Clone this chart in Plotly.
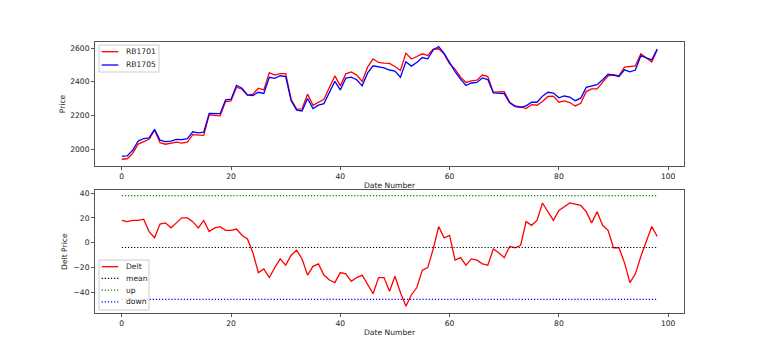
import plotly.graph_objects as go
from plotly.subplots import make_subplots

date_number = list(range(99))
rb1701 = [1941, 1944, 1976, 2031, 2045, 2059, 2114, 2039, 2030, 2036,
          2043, 2037, 2043, 2087, 2085, 2083, 2204, 2200, 2198, 2283,
          2287, 2368, 2356, 2320, 2327, 2362, 2352, 2455, 2440, 2449,
          2449, 2297, 2238, 2240, 2327, 2261, 2279, 2297, 2366, 2435,
          2376, 2447, 2459, 2440, 2402, 2487, 2536, 2515, 2511, 2509,
          2491, 2467, 2570, 2535, 2550, 2566, 2556, 2594, 2596, 2564,
          2507, 2475, 2428, 2396, 2406, 2410, 2440, 2431, 2339, 2341,
          2342, 2279, 2257, 2251, 2241, 2265, 2261, 2283, 2313, 2315,
          2279, 2287, 2277, 2257, 2273, 2342, 2358, 2358, 2398, 2435,
          2443, 2435, 2487, 2491, 2495, 2566, 2541, 2517, 2590]
rb1705 = [1959, 1961, 1994, 2049, 2064, 2068, 2118, 2054, 2046, 2048,
          2059, 2057, 2063, 2104, 2097, 2101, 2213, 2212, 2211, 2293,
          2297, 2379, 2362, 2323, 2319, 2338, 2331, 2427, 2420, 2436,
          2431, 2287, 2232, 2227, 2301, 2242, 2262, 2271, 2336, 2403,
          2352, 2422, 2428, 2412, 2376, 2453, 2495, 2487, 2483, 2470,
          2464, 2427, 2519, 2493, 2514, 2544, 2536, 2589, 2609, 2568,
          2513, 2461, 2416, 2378, 2393, 2396, 2423, 2413, 2334, 2333,
          2330, 2276, 2253, 2249, 2258, 2279, 2279, 2315, 2338, 2333,
          2305, 2316, 2309, 2288, 2303, 2367, 2374, 2383, 2412, 2445,
          2439, 2431, 2471, 2459, 2470, 2555, 2542, 2530, 2595]
delt = [18, 17, 18, 18, 19, 9, 4, 15, 16, 12,
        16, 20, 20, 17, 12, 18, 9, 12, 13, 10,
        10, 11, 6, 3, -8, -24, -21, -28, -20, -13,
        -18, -10, -6, -13, -26, -19, -17, -26, -30, -32,
        -24, -25, -31, -28, -26, -34, -41, -28, -28, -39,
        -27, -40, -51, -42, -36, -22, -20, -5, 13, 4,
        6, -14, -12, -18, -13, -14, -17, -18, -5, -8,
        -12, -3, -4, -2, 17, 14, 18, 32, 25, 18,
        26, 29, 32, 31, 30, 25, 16, 25, 14, 10,
        -4, -4, -16, -32, -25, -11, 1, 13, 5]
mean_val = -3.8
up_val = 37.9
down_val = -45.5

FONT = "DejaVu Sans"
FS = 7.6
TXT = "#222"
W, H = 760, 352
ML, MR, MT, MB = 95, 76, 42, 39
DOT = "1.2px,1.9px"

fig = make_subplots(rows=2, cols=1, shared_xaxes=False, vertical_spacing=0.09)

top_series = [("RB1701", rb1701, "#ff0000", "solid"), ("RB1705", rb1705, "#0000ff", "solid")]
bot_series = [("Delt", delt, "#ff0000", "solid"),
              ("mean", [mean_val] * len(date_number), "#000000", DOT),
              ("up", [up_val] * len(date_number), "#008000", DOT),
              ("down", [down_val] * len(date_number), "#0000ff", DOT)]

for name, ys, col, dash in top_series:
    fig.add_trace(go.Scatter(x=date_number, y=ys, mode="lines", name=name, showlegend=False,
                             line=dict(color=col, width=1.3, dash=dash)), row=1, col=1)
for name, ys, col, dash in bot_series:
    fig.add_trace(go.Scatter(x=date_number, y=ys, mode="lines", name=name, showlegend=False,
                             line=dict(color=col, width=1.3 if dash == "solid" else 1.2, dash=dash)),
                  row=2, col=1)

axis_common = dict(showline=True, mirror=True, linecolor="#555", linewidth=1,
                   ticks="outside", ticklen=3, tickcolor="#555", tickwidth=1,
                   showgrid=False, zeroline=False,
                   tickfont=dict(family=FONT, size=FS, color=TXT))

fig.update_xaxes(**axis_common, range=[-4.9, 102.9], tickvals=[0, 20, 40, 60, 80, 100],
                 title=dict(text="Date Number", font=dict(family=FONT, size=FS, color=TXT), standoff=2))
fig.update_yaxes(**axis_common)

fig.update_layout(
    yaxis=dict(domain=[0.5424, 1.0], range=[1901, 2636], tickvals=[2000, 2200, 2400, 2600],
               title=dict(text="Price", font=dict(family=FONT, size=FS, color=TXT), standoff=3)),
    yaxis2=dict(domain=[0.0, 0.4528], range=[-56.5, 42.2], tickvals=[-40, -20, 0, 20, 40],
                tickformat="d",
                title=dict(text="Delt Price", font=dict(family=FONT, size=FS, color=TXT), standoff=4)),
)

# custom compact legends (matplotlib-like), positioned in pixel space
pw = W - ML - MR
ph = H - MT - MB


def px(x):
    return (x - ML) / pw


def py(y):
    return (H - MB - y) / ph


def add_legend(series, box, first_y, step):
    x0, y0, x1, y1 = box
    fig.add_shape(type="rect", xref="paper", yref="paper",
                  x0=px(x0), x1=px(x1), y0=py(y1), y1=py(y0),
                  line=dict(color="#cccccc", width=1), fillcolor="rgba(255,255,255,0.8)",
                  layer="above")
    for k, (name, _ys, col, dash) in enumerate(series):
        yy = first_y + k * step
        fig.add_shape(type="line", xref="paper", yref="paper",
                      x0=px(101.7), x1=px(118.3), y0=py(yy), y1=py(yy),
                      line=dict(color=col, width=1.3 if dash == "solid" else 1.2, dash=dash),
                      layer="above")
        fig.add_annotation(xref="paper", yref="paper", x=px(123.5), y=py(yy),
                           text=name, showarrow=False, xanchor="left", yanchor="middle",
                           font=dict(family=FONT, size=FS, color=TXT))


add_legend(top_series, (99, 45, 159, 72), 51.7, 13.3)
add_legend(bot_series, (99, 260, 149, 310), 266.7, 11.7)

fig.update_layout(
    width=W, height=H,
    margin=dict(l=ML, r=MR, t=MT, b=MB),
    paper_bgcolor="white", plot_bgcolor="white",
    font=dict(family=FONT, size=FS, color=TXT),
    showlegend=False,
)

fig.write_html("out.html")
